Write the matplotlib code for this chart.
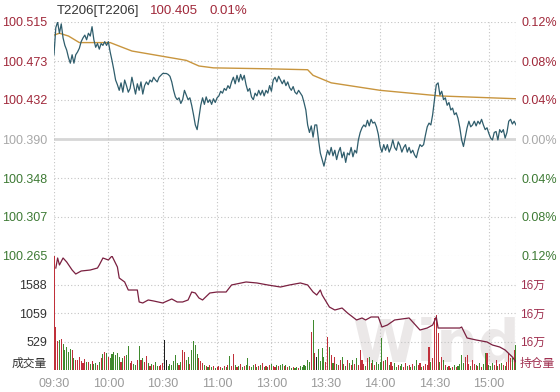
import numpy as np
import matplotlib
matplotlib.use("Agg")
import matplotlib.pyplot as plt

plt.rcParams['font.family'] = ['Liberation Sans', 'Noto Sans CJK SC', 'DejaVu Sans']

# ---------------- data ----------------
title_code = "T2206[T2206]"
last_price = "100.405"
last_pct = "0.01%"
pre_close = 100.390

time_ticks = [0, 30, 60, 90, 120, 150, 180, 210, 240]
time_labels = ["09:30", "10:00", "10:30", "11:00", "13:00", "13:30", "14:00", "14:30", "15:00"]

price_ticks = [100.515, 100.473, 100.432, 100.390, 100.348, 100.307, 100.265]
pct_labels = ["0.12%", "0.08%", "0.04%", "0.00%", "0.04%", "0.08%", "0.12%"]

price = [
    100.480, 100.509, 100.515, 100.503, 100.513, 100.498, 100.490, 100.485, 100.477, 100.471,
    100.480, 100.471, 100.480, 100.483, 100.487, 100.494, 100.498, 100.501, 100.496, 100.503,
    100.500, 100.510, 100.496, 100.488, 100.492, 100.486, 100.492, 100.490, 100.494, 100.490,
    100.494, 100.483, 100.474, 100.464, 100.453, 100.448, 100.442, 100.450, 100.440, 100.453,
    100.447, 100.440, 100.444, 100.456, 100.447, 100.438, 100.449, 100.442, 100.451, 100.438,
    100.447, 100.451, 100.448, 100.453, 100.451, 100.456, 100.453, 100.451, 100.456, 100.458,
    100.460, 100.460, 100.460, 100.459, 100.457, 100.451, 100.442, 100.435, 100.432, 100.434,
    100.428, 100.432, 100.442, 100.437, 100.432, 100.434, 100.426, 100.416, 100.405, 100.400,
    100.413, 100.426, 100.434, 100.427, 100.435, 100.429, 100.432, 100.427, 100.433, 100.429,
    100.434, 100.436, 100.441, 100.439, 100.444, 100.442, 100.447, 100.444, 100.451, 100.456,
    100.449, 100.458, 100.451, 100.459, 100.453, 100.458, 100.448, 100.441, 100.444, 100.435,
    100.432, 100.439, 100.436, 100.442, 100.437, 100.442, 100.436, 100.442, 100.439, 100.447,
    100.441, 100.453, 100.456, 100.451, 100.457, 100.453, 100.449, 100.453, 100.447, 100.451,
    100.445, 100.442, 100.446, 100.440, 100.438, 100.442, 100.439, 100.436, 100.429, 100.421,
    100.405, 100.397, 100.404, 100.392, 100.405, 100.405, 100.389, 100.375, 100.368, 100.361,
    100.370, 100.378, 100.373, 100.381, 100.372, 100.378, 100.368, 100.376, 100.381, 100.370,
    100.376, 100.365, 100.375, 100.373, 100.381, 100.371, 100.378, 100.375, 100.389, 100.397,
    100.402, 100.405, 100.403, 100.410, 100.404, 100.411, 100.407, 100.408, 100.403, 100.395,
    100.382, 100.376, 100.384, 100.378, 100.384, 100.376, 100.381, 100.389, 100.381, 100.378,
    100.387, 100.383, 100.376, 100.381, 100.384, 100.376, 100.381, 100.375, 100.378, 100.373,
    100.370, 100.378, 100.384, 100.382, 100.384, 100.394, 100.403, 100.407, 100.405, 100.416,
    100.432, 100.448, 100.450, 100.437, 100.441, 100.432, 100.434, 100.426, 100.429, 100.421,
    100.423, 100.416, 100.418, 100.412, 100.402, 100.389, 100.382, 100.392, 100.402, 100.409,
    100.403, 100.405, 100.409, 100.404, 100.409, 100.406, 100.411, 100.405, 100.400, 100.402,
    100.396, 100.391, 100.389, 100.397, 100.398, 100.389, 100.400, 100.397, 100.400, 100.391,
    100.397, 100.409, 100.411, 100.406, 100.409, 100.405,
]

avg_minutes = [0, 3, 8, 14, 31, 43, 55, 73, 80, 88, 118, 140, 143, 153, 180, 213, 255]
avg_price = [100.501, 100.503, 100.500, 100.493, 100.493, 100.484, 100.480, 100.474, 100.468,
             100.466, 100.465, 100.464, 100.458, 100.450, 100.442, 100.436, 100.433]

volume = [
    2117, 799, 539, 557, 576, 483, 371, 427, 334, 390,
    371, 223, 186, 186, 241, 167, 130, 204, 149, 149,
    111, 167, 111, 130, 93, 149, 223, 297, 334, 316,
    241, 223, 297, 334, 279, 316, 241, 149, 223, 260,
    279, 446, 130, 167, 111, 93, 186, 446, 186, 223,
    149, 260, 130, 74, 111, 93, 149, 74, 74, 93,
    130, 557, 186, 74, 111, 93, 167, 279, 130, 93,
    149, 371, 334, 186, 241, 111, 371, 539, 464, 297,
    223, 167, 130, 93, 74, 56, 93, 56, 74, 37,
    56, 74, 56, 37, 74, 56, 93, 260, 74, 297,
    93, 56, 74, 111, 56, 74, 93, 223, 74, 56,
    93, 111, 56, 74, 93, 130, 56, 74, 56, 93,
    111, 74, 56, 93, 74, 93, 111, 74, 93, 56,
    74, 37, 56, 37, 56, 37, 74, 56, 93, 74,
    186, 149, 706, 929, 316, 241, 390, 167, 409, 241,
    149, 613, 427, 279, 130, 241, 111, 93, 186, 241,
    111, 74, 186, 130, 93, 186, 111, 223, 93, 371,
    186, 111, 74, 223, 241, 130, 186, 93, 149, 111,
    149, 594, 167, 186, 241, 93, 149, 74, 130, 56,
    93, 74, 111, 56, 130, 74, 93, 56, 111, 74,
    186, 93, 130, 56, 74, 111, 93, 427, 149, 223,
    966, 1021, 687, 149, 241, 186, 93, 56, 74, 37,
    56, 93, 56, 74, 111, 279, 130, 241, 279, 111,
    74, 186, 111, 93, 74, 130, 56, 111, 316, 316,
    93, 74, 130, 93, 186, 74, 111, 130, 93, 74,
    149, 316, 223, 223, 371, 464,
]

oi_minutes = [1, 2, 3, 5, 7, 10, 12, 15, 20, 24, 25, 27, 30, 32, 35, 36, 39, 41, 46, 47,
              49, 52, 55, 60, 65, 68, 71, 74, 76, 78, 80, 82, 86, 90, 95, 98, 106, 112, 118,
              125, 130, 136, 140, 143, 145, 147, 148, 152, 155, 159, 162, 167, 170, 172, 175,
              179, 181, 184, 188, 196, 202, 206, 209, 211, 212, 215, 224, 225, 228, 233, 239,
              242, 246, 249, 253, 255]
open_interest = [161247, 161458, 161311, 161458, 161374, 161205, 161121, 161184, 161205, 161247,
                 161311, 161458, 161416, 161500, 161268, 161037, 160953, 160784, 160784, 160532,
                 160511, 160574, 160553, 160511, 160595, 160532, 160532, 160574, 160742, 160721,
                 160616, 160574, 160721, 160742, 160742, 160890, 160953, 160932, 160890,
                 160847, 160890, 160932, 160890, 160742, 160679, 160784, 160679, 160426, 160363,
                 160405, 160300, 160153, 160195, 160153, 160216,
                 160216, 160005, 160047, 160153, 160195, 159942, 159984, 160047, 160216, 159984,
                 159984, 159984, 160005, 159774, 159732, 159690,
                 159626, 159584, 159521, 159374, 159269]

vol_ticks = [529.25, 1058.5, 1587.75]
vol_labels = ["529", "1059", "1588"]
oi_ticks = [159700, 160300, 160900]
oi_labels = ["16万", "16万", "16万"]

# ---------------- style ----------------
W, H = 560, 392
fig = plt.figure(figsize=(W / 100, H / 100), dpi=100)
fig.patch.set_facecolor('white')

L, R = 54, 516
def rect(top, bottom):
    return [L / W, 1 - bottom / H, (R - L) / W, (bottom - top) / H]

RED = '#a0283a'
GRN = '#3d7a34'
GRAY = '#a8a8a8'
GRID = '#c4c4c4'
PRICE_C = '#2f5d6c'
AVG_C = '#c8953e'
OI_C = '#7a2040'

# watermark
fig.text(352 / W, 1 - 362 / H, "Wind", fontsize=42, fontweight='bold', color='#ebe8e8',
         zorder=-5, ha='left', va='baseline', family='DejaVu Sans')

minutes = np.arange(len(price))

ax = fig.add_axes(rect(22, 256))
ax.patch.set_alpha(0)
ax.set_xlim(0, 255)
ax.set_ylim(price_ticks[-1], price_ticks[0])
for s in ax.spines.values():
    s.set_visible(False)
for yv in price_ticks:
    if abs(yv - pre_close) < 1e-9:
        ax.axhline(yv, color='#d6d6d6', lw=2.0, zorder=1)
    else:
        ax.axhline(yv, color=GRID, lw=0.8, ls=(0, (1, 2)), zorder=1)
for xv in time_ticks + [255]:
    ax.axvline(xv, color=GRID, lw=0.8, ls=(0, (1, 2)), zorder=1)
ax.plot(avg_minutes, avg_price, color=AVG_C, lw=1.0, zorder=3)
ax.plot(minutes, price, color=PRICE_C, lw=0.9, zorder=4)
ax.set_xticks([])
ax.set_yticks(price_ticks)
ax.set_yticklabels([f"{v:.3f}" for v in price_ticks])
ax.tick_params(axis='y', length=0, pad=5, labelsize=9)
for lab, v in zip(ax.get_yticklabels(), price_ticks):
    lab.set_color(RED if v > pre_close + 1e-9 else (GRAY if abs(v - pre_close) < 1e-9 else GRN))

ax2 = ax.twinx()
ax2.set_ylim(ax.get_ylim())
for s in ax2.spines.values():
    s.set_visible(False)
ax2.set_yticks(price_ticks)
ax2.set_yticklabels(pct_labels)
ax2.tick_params(axis='y', length=0, pad=4, labelsize=9)
for lab, v in zip(ax2.get_yticklabels(), price_ticks):
    lab.set_color(RED if v > pre_close + 1e-9 else (GRAY if abs(v - pre_close) < 1e-9 else GRN))

# title
fig.text(57 / W, 1 - 11 / H, title_code, fontsize=9.5, color='#333333', va='center', ha='left')
fig.text(150 / W, 1 - 11 / H, last_price, fontsize=9.5, color=RED, va='center', ha='left')
fig.text(210 / W, 1 - 11 / H, last_pct, fontsize=9.5, color=RED, va='center', ha='left')

# lower panel
axv = fig.add_axes(rect(256, 370))
axv.patch.set_alpha(0)
axv.set_xlim(0, 255)
axv.set_ylim(0, 2117)
for s in axv.spines.values():
    s.set_visible(False)
for yv in vol_ticks:
    axv.axhline(yv, color=GRID, lw=0.8, ls=(0, (1, 2)), zorder=1)
for xv in time_ticks + [255]:
    axv.axvline(xv, color=GRID, lw=0.8, ls=(0, (1, 2)), zorder=1)

colors = []
for i in range(len(volume)):
    prev = price[i - 1] if i > 0 else pre_close
    d = price[i] - prev
    if d > 1e-9:
        colors.append('#c0303a')
    elif d < -1e-9:
        colors.append('#3f8a2e')
    else:
        colors.append('#1e1e1e')
axv.bar(minutes, volume, width=0.6, color=colors, zorder=2)
axv.set_yticks([0] + vol_ticks)
axv.set_yticklabels(["成交量"] + vol_labels)
axv.tick_params(axis='y', length=0, pad=5, labelsize=9, labelcolor='#333333')
axv.set_xticks(time_ticks)
axv.set_xticklabels(time_labels)
axv.tick_params(axis='x', length=0, pad=6, labelsize=9, labelcolor='#9a9a9a')
axv.get_yticklabels()[0].set_va('bottom')
axv.get_yticklabels()[0].set_fontsize(8.5)

axo = axv.twinx()
axo.set_xlim(0, 255)
axo.set_ylim(159100, 161500)
for s in axo.spines.values():
    s.set_visible(False)
axo.plot(oi_minutes, open_interest, color=OI_C, lw=0.9, zorder=3)
axo.set_yticks([159100] + oi_ticks)
axo.set_yticklabels(["持仓量"] + oi_labels)
axo.tick_params(axis='y', length=0, pad=3, labelsize=8.5, labelcolor='#a03050')
axo.get_yticklabels()[0].set_va('bottom')

fig.savefig("out.png", dpi=100, facecolor='white')
